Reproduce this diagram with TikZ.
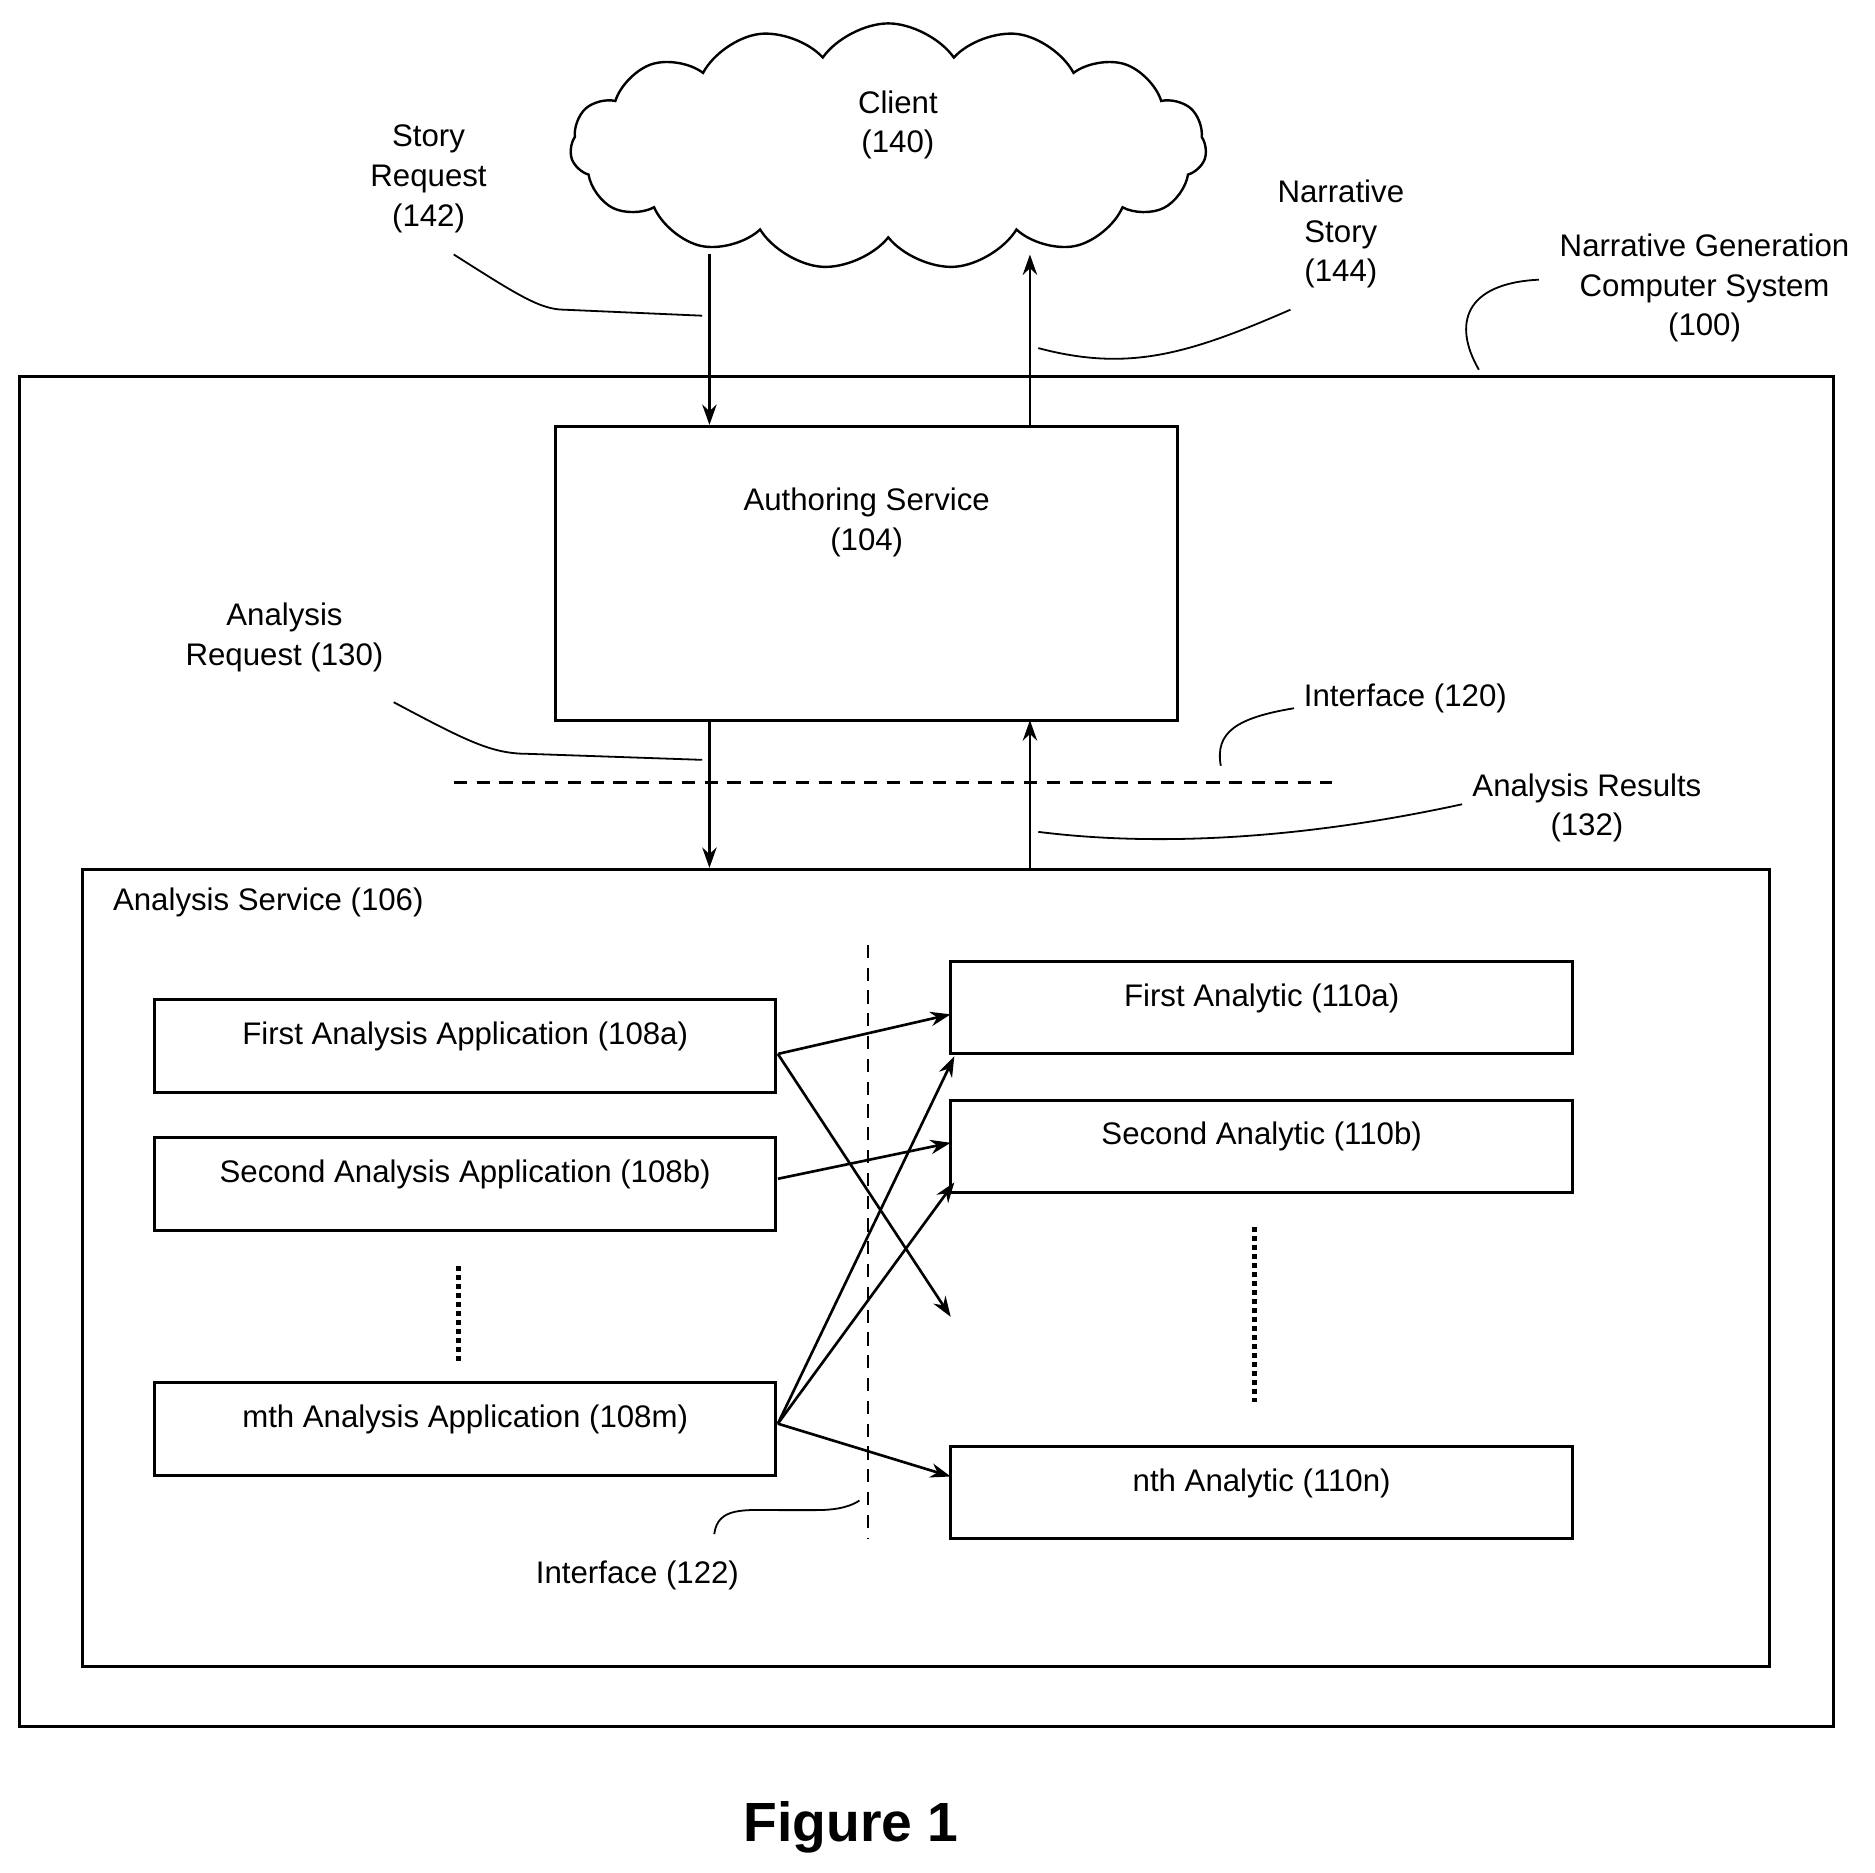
\documentclass[tikz,border=0pt]{standalone}
\usepackage{fontspec}
\setmainfont{Liberation Sans}
\usetikzlibrary{arrows.meta,shapes.symbols}
\begin{document}
\begin{tikzpicture}[x=1pt,y=-1pt,
  box/.style={draw,line width=2.5pt,inner sep=0},
  lbl/.style={font=\fontsize{26}{33}\selectfont,align=center,inner sep=0},
  arr/.style={line width=2.2pt,-{Stealth[length=17pt,width=12pt]}},
  lead/.style={line width=1.5pt},
  every node/.style={inner sep=0}]
\useasboundingbox (0,0) rectangle (1562,1560);
\fill[white] (0,0) rectangle (1562,1560);
% cloud
\node[cloud,cloud puffs=15,cloud puff arc=110,aspect=2.6,draw,line width=2pt,minimum width=530pt,minimum height=205pt] (cloud) at (740,122) {};
\node[lbl] (client) at (748,104) {Client\\(140)};
% boxes
\draw[box] (16,314) rectangle (1527,1438);
\node[box,minimum width=518pt,minimum height=245pt] (auth) at (722,477.5) {};
\node[lbl] (authl) at (722,435) {Authoring Service\\(104)};
\node[box,minimum width=1405pt,minimum height=664pt] (anal) at (771.5,1056) {};
\node[lbl,anchor=west] (anall) at (94,752) {Analysis Service (106)};
\foreach \n/\y/\t in {a/871.5/First Analysis Application (108a),b/986.5/Second Analysis Application (108b),m/1190.5/mth Analysis Application (108m)}{
  \node[box,minimum width=517pt,minimum height=77pt] (l\n) at (387.5,\y) {};
  \node[lbl] at (387.5,\y-8) {\t};
}
\foreach \n/\y/\t in {a/839.5/First Analytic (110a),b/955/Second Analytic (110b),n/1243.5/nth Analytic (110n)}{
  \node[box,minimum width=518pt,minimum height=77pt] (r\n) at (1051,\y) {};
  \node[lbl] at (1051,\y-8) {\t};
}
% dotted / dashed
\draw[line width=4pt,dash pattern=on 4pt off 3.5pt] (382,1055) -- (382,1135);
\draw[line width=4pt,dash pattern=on 4pt off 3.5pt] (1045,1022) -- (1045,1168);
\draw[line width=2pt,dash pattern=on 11pt off 8pt] (723,787) -- (723,1282);
\draw[line width=2pt,dash pattern=on 11pt off 8pt] (378,652) -- (1110,652);
% main arrows
\coordinate (c1) at (591,212); \coordinate (c2) at (858,212);
\draw[arr] (c1) -- (591,354);
\draw[arr] (858,354) -- (c2);
\draw[arr] (591,600) -- (591,723);
\draw[arr] (858,723) -- (858,600);
% cross arrows
\coordinate (pa) at (648,878); \coordinate (pb) at (648,982); \coordinate (pm) at (648,1186);
\coordinate (ea) at (1003,1097);
\draw[arr] (pa) -- (792,845);
\draw[arr] (pa) -- (792,1097);
\draw[arr] (pb) -- (792,952);
\draw[arr] (pm) -- (795,880);
\draw[arr] (pm) -- (795,985);
\draw[arr] (pm) -- (792,1230);
% labels
\node[lbl] at (357,149) {Story\\Request\\(142)};
\draw[lead] (378,212) .. controls (430,245) and (450,258) .. (470,258) -- (585,263);
\node[lbl] at (1117,195) {Narrative\\Story\\(144)};
\draw[lead] (1075,258) .. controls (990,295) and (940,310) .. (865,290);
\node[lbl] at (1420,240) {Narrative Generation\\Computer System\\(100)};
\draw[lead] (1282,233) .. controls (1220,236) and (1210,270) .. (1232,308);
\node[lbl] at (237,531) {Analysis\\Request (130)};
\draw[lead] (328,585) .. controls (390,618) and (410,628) .. (440,628) -- (585,633);
\node[lbl,anchor=west] at (1086,582) {Interface (120)};
\draw[lead] (1078,590) .. controls (1030,598) and (1012,610) .. (1017,638);
\node[lbl] at (1322,673) {Analysis Results\\(132)};
\draw[lead] (1218,670) .. controls (1080,700) and (960,705) .. (865,693);
\node[lbl] at (531,1312) {Interface (122)};
\draw[lead] (595,1278) .. controls (598,1255) and (620,1258) .. (650,1258) -- (680,1258) .. controls (700,1258) and (710,1254) .. (716,1250);
\node[font=\fontsize{46}{50}\selectfont\bfseries] at (709,1522) {Figure 1};
\end{tikzpicture}
\end{document}
